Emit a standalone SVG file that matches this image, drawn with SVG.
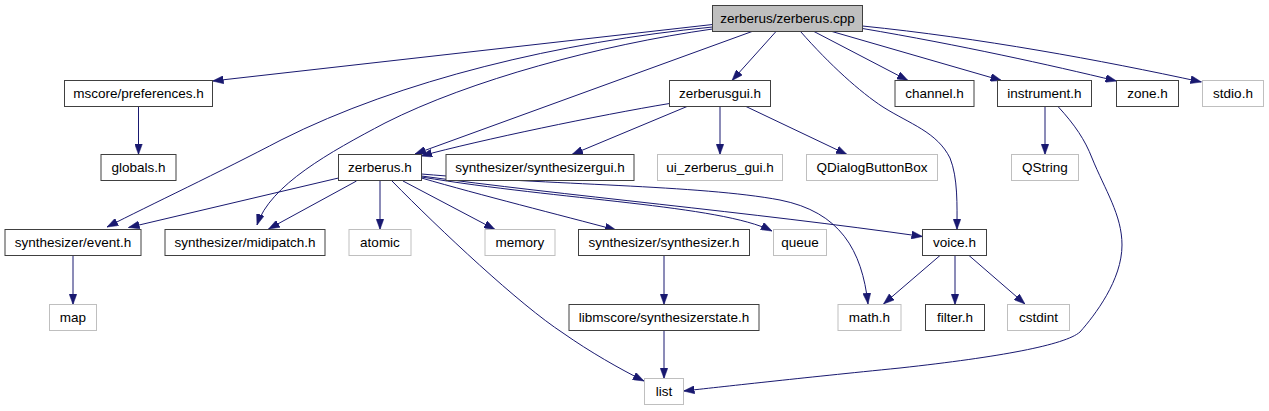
<svg xmlns="http://www.w3.org/2000/svg" width="1269" height="411" viewBox="0 0 1269 411">
<style>
  .n rect { fill: #ffffff; stroke: #404040; stroke-width: 1; }
  .n.root rect { fill: #bfbfbf; }
  .n.ext rect { stroke: #bfbfbf; }
  .n text { font-family: "Liberation Sans", Arial, sans-serif; font-size: 13.5px; fill: #000000; text-anchor: middle; }
  .e path { fill: none; stroke: #191970; stroke-width: 1; marker-end: url(#arr); }
</style>
<defs>
  <marker id="arr" viewBox="0 0 11 8" refX="11" refY="4" markerWidth="11" markerHeight="8" markerUnits="userSpaceOnUse" orient="auto">
    <path d="M0,0 L11,4 L0,8 z" fill="#191970" stroke="#191970" stroke-width="0.5"/>
  </marker>
</defs>
<rect width="1269" height="411" fill="#ffffff"/>
<g id="edges" class="e">
  <path d="M712.5,24.5 L212.5,81"/>
  <path d="M712.5,27 C560,42 400,80 281,140 C220,172 150,205 107,227"/>
  <path d="M712.5,29 C600,45 470,80 385,123 C330,152 270,185 257,225"/>
  <path d="M752,31.5 L415,154"/>
  <path d="M776,31.5 L732,80.5"/>
  <path d="M800.5,31.5 C830,65 860,92 883,107 C910,124 937,132 950,158 C958,178 957,205 957,229.5"/>
  <path d="M814,31.5 L908,80.5"/>
  <path d="M832,31.5 L1001.5,80.5"/>
  <path d="M862.5,28.5 C960,45 1050,65 1116.5,81"/>
  <path d="M862.5,26 C980,38 1100,60 1201.5,82"/>
  <path d="M669.5,103.5 C600,115 480,140 421,156"/>
  <path d="M687,106.5 L572,154.5"/>
  <path d="M720,106.5 L720,154.5"/>
  <path d="M746,106.5 L847,154.5"/>
  <path d="M1045,106.5 L1045,154.5"/>
  <path d="M1058,106.5 C1075,125 1085,140 1092,158 C1105,190 1122,215 1122,245 C1122,280 1095,315 1080,332 C1065,345 1000,357 900,368 C800,378 720,387 683.5,391"/>
  <path d="M138.5,106.5 L138.5,154.5"/>
  <path d="M338.5,178 L128.5,227.5"/>
  <path d="M356.5,181 L268.5,229"/>
  <path d="M380,181 L380,229.5"/>
  <path d="M403,181 L495,229.5"/>
  <path d="M392,181 C440,230 520,305 563,333 C590,352 620,369 644,381"/>
  <path d="M421.5,178 C480,195 560,215 616,230"/>
  <path d="M421.5,177 C560,200 720,205 772,231"/>
  <path d="M421.5,176 C560,195 750,212 922.5,236.5"/>
  <path d="M421.5,174 C550,185 700,185 780,200 C840,212 862,250 868,304"/>
  <path d="M73,255.5 L73,304.5"/>
  <path d="M664,255.5 L664,304.5"/>
  <path d="M664,330.5 L664,378.5"/>
  <path d="M940,255.5 L883.5,304"/>
  <path d="M955,255.5 L955,304.5"/>
  <path d="M969,255.5 L1025,304"/>
</g>
<g id="node-root" class="n root"><rect x="712.5" y="5.5" width="150" height="26"/><text x="787.5" y="22.5">zerberus/zerberus.cpp</text></g>
<g id="node-preferences" class="n"><rect x="64.5" y="80.5" width="148" height="26"/><text x="138.5" y="97.5">mscore/preferences.h</text></g>
<g id="node-zerberusgui" class="n"><rect x="669.5" y="80.5" width="101" height="26"/><text x="720" y="97.5">zerberusgui.h</text></g>
<g id="node-channel" class="n"><rect x="895" y="80.5" width="79" height="26"/><text x="934.5" y="97.5">channel.h</text></g>
<g id="node-instrument" class="n"><rect x="997.5" y="80.5" width="94" height="26"/><text x="1044.5" y="97.5">instrument.h</text></g>
<g id="node-zone" class="n"><rect x="1116.5" y="80.5" width="62" height="26"/><text x="1147.5" y="97.5">zone.h</text></g>
<g id="node-stdio" class="n ext"><rect x="1202.5" y="80.5" width="61" height="26"/><text x="1233" y="97.5">stdio.h</text></g>
<g id="node-globals" class="n"><rect x="101" y="154.5" width="75" height="26"/><text x="138.5" y="171.5">globals.h</text></g>
<g id="node-zerberus" class="n"><rect x="338.5" y="154.5" width="83" height="26"/><text x="380" y="171.5">zerberus.h</text></g>
<g id="node-synthesizergui" class="n"><rect x="446" y="154.5" width="188" height="26"/><text x="540" y="171.5">synthesizer/synthesizergui.h</text></g>
<g id="node-ui" class="n ext"><rect x="657.5" y="154.5" width="125" height="26"/><text x="720" y="171.5">ui_zerberus_gui.h</text></g>
<g id="node-qdialog" class="n ext"><rect x="806.5" y="154.5" width="131" height="26"/><text x="872" y="171.5">QDialogButtonBox</text></g>
<g id="node-qstring" class="n ext"><rect x="1011.5" y="154.5" width="67" height="26"/><text x="1045" y="171.5">QString</text></g>
<g id="node-event" class="n"><rect x="5" y="229.5" width="136" height="26"/><text x="73" y="246.5">synthesizer/event.h</text></g>
<g id="node-midipatch" class="n"><rect x="165" y="229.5" width="160" height="26"/><text x="245" y="246.5">synthesizer/midipatch.h</text></g>
<g id="node-atomic" class="n ext"><rect x="349" y="229.5" width="62" height="26"/><text x="380" y="246.5">atomic</text></g>
<g id="node-memory" class="n ext"><rect x="485" y="229.5" width="70" height="26"/><text x="520" y="246.5">memory</text></g>
<g id="node-synthesizer" class="n"><rect x="578.5" y="229.5" width="171" height="26"/><text x="664" y="246.5">synthesizer/synthesizer.h</text></g>
<g id="node-queue" class="n ext"><rect x="773.5" y="229.5" width="53" height="26"/><text x="800" y="246.5">queue</text></g>
<g id="node-voice" class="n"><rect x="922.5" y="229.5" width="64" height="26"/><text x="954.5" y="246.5">voice.h</text></g>
<g id="node-map" class="n ext"><rect x="49.5" y="304.5" width="47" height="26"/><text x="73" y="321.5">map</text></g>
<g id="node-synthesizerstate" class="n"><rect x="569" y="304.5" width="190" height="26"/><text x="664" y="321.5">libmscore/synthesizerstate.h</text></g>
<g id="node-math" class="n ext"><rect x="838" y="304.5" width="63" height="26"/><text x="869.5" y="321.5">math.h</text></g>
<g id="node-filter" class="n"><rect x="925.5" y="304.5" width="59" height="26"/><text x="955" y="321.5">filter.h</text></g>
<g id="node-cstdint" class="n ext"><rect x="1007.5" y="304.5" width="62" height="26"/><text x="1038.5" y="321.5">cstdint</text></g>
<g id="node-list" class="n ext"><rect x="644.5" y="378.5" width="39" height="26"/><text x="664" y="395.5">list</text></g>
</svg>
